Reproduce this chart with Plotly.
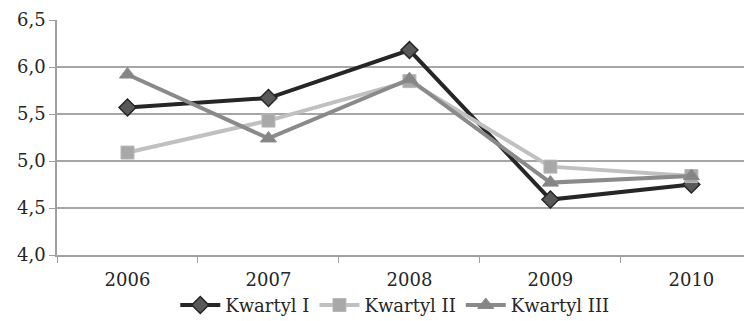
import plotly.graph_objects as go

years = ["2006", "2007", "2008", "2009", "2010"]
kwartyl_1 = [5.57, 5.67, 6.18, 4.59, 4.75]
kwartyl_2 = [5.09, 5.43, 5.85, 4.94, 4.84]
kwartyl_3 = [5.92, 5.24, 5.87, 4.77, 4.84]
y_ticks = [4.0, 4.5, 5.0, 5.5, 6.0, 6.5]

font_family = "DejaVu Serif"

fig = go.Figure()
fig.add_trace(go.Scatter(
    x=years, y=kwartyl_1, name="Kwartyl I", mode="lines+markers",
    line=dict(color="#262626", width=4),
    marker=dict(symbol="diamond", size=13, color="#595959",
                line=dict(color="#262626", width=1.5)),
))
fig.add_trace(go.Scatter(
    x=years, y=kwartyl_2, name="Kwartyl II", mode="lines+markers",
    line=dict(color="#c0c0c0", width=4),
    marker=dict(symbol="square", size=13, color="#a8a8a8",
                line=dict(color="#b8b8b8", width=1)),
))
fig.add_trace(go.Scatter(
    x=years, y=kwartyl_3, name="Kwartyl III", mode="lines+markers",
    line=dict(color="#8a8a8a", width=4),
    marker=dict(symbol="triangle-up", size=14, color="#858585",
                line=dict(color="#8a8a8a", width=1)),
))

fig.update_layout(
    width=744, height=313,
    margin=dict(l=49, r=0, t=12, b=66, autoexpand=False),
    paper_bgcolor="white", plot_bgcolor="white",
    separators=",.",
    font=dict(family=font_family, size=18, color="#262626"),
    showlegend=True,
    legend=dict(orientation="h", x=0.486, xanchor="center", y=-0.214,
                yanchor="middle", font=dict(size=18), itemwidth=40,
                tracegroupgap=0),
    xaxis=dict(
        type="category", range=[-0.5, 4.43], automargin=False,
        showline=True, linecolor="#a0a0a0", linewidth=1.5,
        ticks="outside", tickson="boundaries", ticklen=6,
        tickcolor="#a0a0a0", showgrid=False, zeroline=False,
        ticklabelstandoff=8,
    ),
    yaxis=dict(
        range=[4.0, 6.5], tickvals=y_ticks, tickformat=".1f",
        automargin=False,
        showline=True, linecolor="#a0a0a0", linewidth=1.5,
        ticks="outside", ticklen=6, tickcolor="#a0a0a0",
        showgrid=True, gridcolor="#a6a6a6", gridwidth=1.5,
        zeroline=False,
    ),
)

fig.write_html("out.html")
